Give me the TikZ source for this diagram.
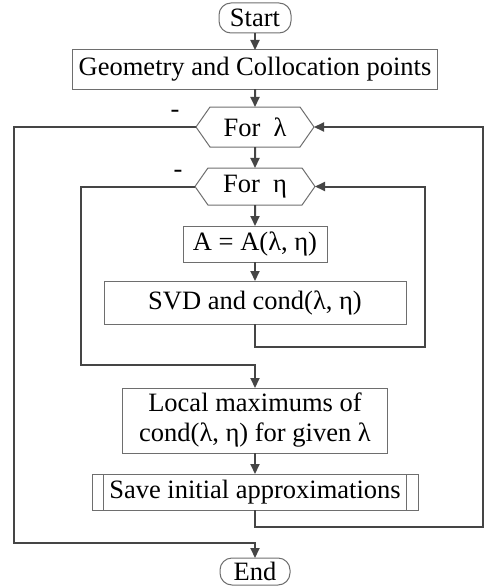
\documentclass[tikz,border=0pt]{standalone}
\usepackage{fontspec}
\setmainfont{Liberation Serif}
\usepackage{xcolor}
\usepackage{tikz}
\usetikzlibrary{positioning, shapes.symbols, arrows.meta}

\definecolor{linegray}{HTML}{454545}
\definecolor{boxgray}{HTML}{6E6E6E}

\tikzset{
    block/.style={rectangle, draw=boxgray, line width=1pt, inner sep=0pt, outer sep=0pt, align=center,
        font=\fontsize{26.5pt}{30pt}\selectfont},
    terminal/.style={block, rounded corners=12pt, minimum width=72pt, minimum height=30pt},
    loopbox/.style={block, signal, signal to=west and east, signal pointer angle=110},
    savebox/.style={block, path picture={
        \draw[boxgray, line width=1pt]
            ([xshift=11pt]path picture bounding box.north west) -- ([xshift=11pt]path picture bounding box.south west)
            ([xshift=-12pt]path picture bounding box.north east) -- ([xshift=-12pt]path picture bounding box.south east);}},
    minuslabel/.style={inner sep=0pt, font=\fontsize{26.5pt}{30pt}\selectfont},
    flow/.style={draw=linegray, line width=2pt, -{Triangle[length=10pt, width=9pt]}},
}

\begin{document}
\begin{tikzpicture}
        \useasboundingbox (0,0) rectangle (484pt,-586pt);

        \node[terminal] (start) at (255pt,-18pt) {Start};
        \node[block, minimum width=365pt, minimum height=39pt, below=17pt of start] (geom) {Geometry and Collocation points};
        \node[loopbox, minimum width=118pt, minimum height=40pt, below=18pt of geom] (lam) {For~~λ};
        \node[loopbox, minimum width=120pt, minimum height=37pt, below=21pt of lam] (eta) {For~~η};
        \node[block, minimum width=144pt, minimum height=36pt, below=21pt of eta] (amat) {A = A(λ, η)};
        \node[block, minimum width=302pt, minimum height=43pt, below=19pt of amat] (svd) {SVD and cond(λ, η)};
        \node[block, minimum width=265pt, minimum height=65pt, below=64pt of svd] (local) {Local maximums of\\cond(λ, η) for given λ};
        \node[savebox, minimum width=326pt, minimum height=36pt, below=21pt of local] (save) {Save initial approximations};
        \node[terminal, minimum width=70pt, minimum height=27pt] (end) at (255pt,-571.5pt) {End};

        \node[minuslabel, anchor=base] (lamminus) at ([xshift=-21pt, yshift=10pt]lam.west) {-};
        \node[minuslabel, anchor=base] (etaminus) at ([xshift=-17pt, yshift=9pt]eta.west) {-};

        % corners of the two loops
        \coordinate (innerL) at (81pt,-365pt);
        \coordinate (innerR) at (425pt,-347pt);
        \coordinate (outerL) at (14pt,-543pt);
        \coordinate (outerR) at (483pt,-527pt);

        \draw[flow] (start) -- (geom);
        \draw[flow] (geom) -- (lam);
        \draw[flow] (lam) -- (eta);
        \draw[flow] (eta) -- (amat);
        \draw[flow] (amat) -- (svd);
        \draw[flow] (local) -- (save);

        \draw[flow] (eta.west) -| (innerL) -- (innerL -| local.north) -- (local.north);
        \draw[flow] (svd.south) |- (innerR) -- (innerR |- eta.east) -- (eta.east);
        \draw[flow] (lam.west) -| (outerL) -- (outerL -| end.north) -- (end.north);
        \draw[flow] (save.south) |- (outerR) -- (outerR |- lam.east) -- (lam.east);
\end{tikzpicture}
\end{document}
